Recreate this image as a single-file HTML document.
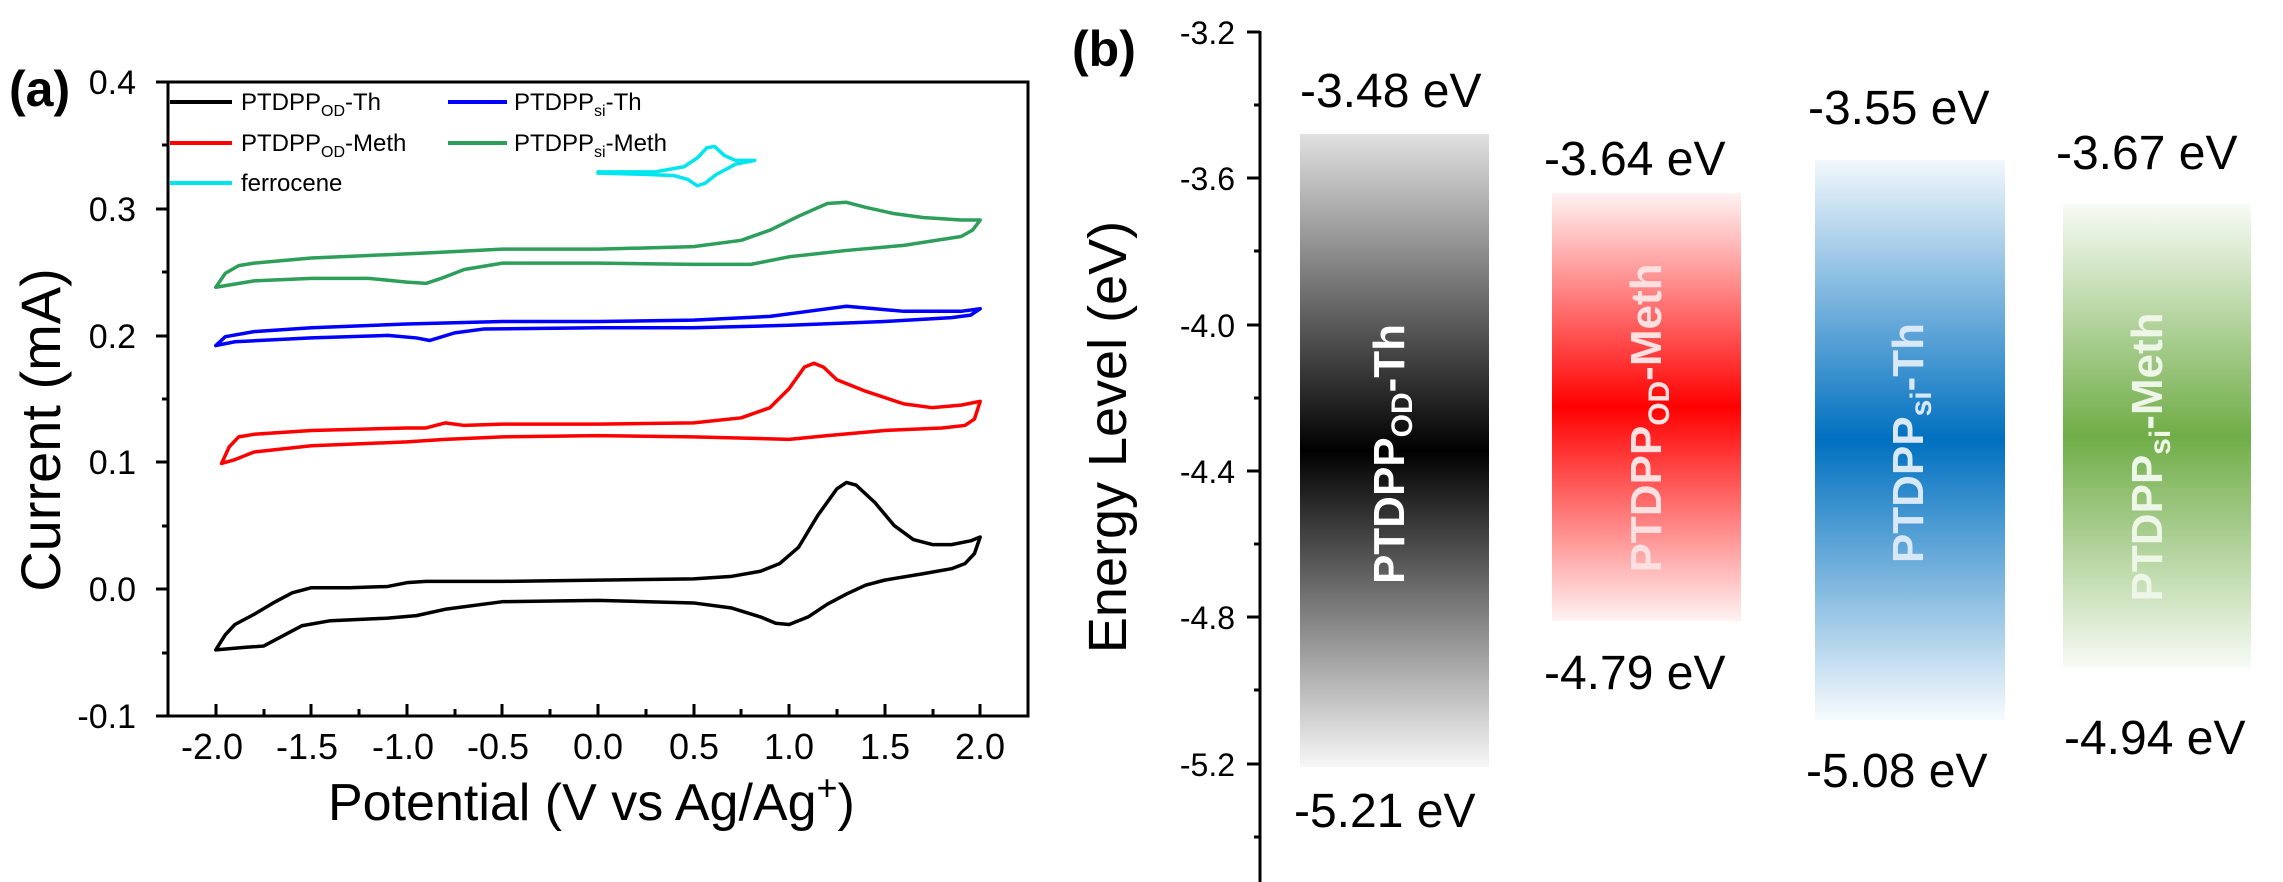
<!DOCTYPE html>
<html><head><meta charset="utf-8"><style>
html,body{margin:0;padding:0;background:#fff;}
svg{display:block;font-family:"Liberation Sans",Arial,sans-serif;}
</style></head><body>
<svg width="2283" height="882" viewBox="0 0 2283 882" xmlns="http://www.w3.org/2000/svg">
<defs>
<linearGradient id="gk" x1="0" y1="0" x2="0" y2="1">
<stop offset="0" stop-color="#000" stop-opacity="0.12"/><stop offset="0.5" stop-color="#000" stop-opacity="1"/><stop offset="1" stop-color="#000" stop-opacity="0.03"/></linearGradient>
<linearGradient id="gr" x1="0" y1="0" x2="0" y2="1">
<stop offset="0" stop-color="#ff0000" stop-opacity="0.05"/><stop offset="0.5" stop-color="#ff0000" stop-opacity="1"/><stop offset="1" stop-color="#ff0000" stop-opacity="0.05"/></linearGradient>
<linearGradient id="gb" x1="0" y1="0" x2="0" y2="1">
<stop offset="0" stop-color="#0070c0" stop-opacity="0.05"/><stop offset="0.5" stop-color="#0070c0" stop-opacity="1"/><stop offset="1" stop-color="#0070c0" stop-opacity="0.03"/></linearGradient>
<linearGradient id="gg" x1="0" y1="0" x2="0" y2="1">
<stop offset="0" stop-color="#70ad47" stop-opacity="0.05"/><stop offset="0.5" stop-color="#70ad47" stop-opacity="1"/><stop offset="1" stop-color="#70ad47" stop-opacity="0.05"/></linearGradient>
</defs>

<!-- Panel a -->
<text x="9" y="106" font-size="50" font-weight="bold">(a)</text>
<rect x="168" y="82" width="860" height="634" fill="none" stroke="#000" stroke-width="3"/>
<g stroke="#000" stroke-width="3">
<line x1="156" y1="82" x2="168" y2="82"/><line x1="156" y1="209" x2="168" y2="209"/><line x1="156" y1="336" x2="168" y2="336"/><line x1="156" y1="462" x2="168" y2="462"/><line x1="156" y1="589" x2="168" y2="589"/><line x1="156" y1="716" x2="168" y2="716"/>
<line x1="162" y1="145" x2="168" y2="145"/><line x1="162" y1="272" x2="168" y2="272"/><line x1="162" y1="399" x2="168" y2="399"/><line x1="162" y1="526" x2="168" y2="526"/><line x1="162" y1="653" x2="168" y2="653"/>
<line x1="216" y1="716" x2="216" y2="704"/><line x1="311" y1="716" x2="311" y2="704"/><line x1="407" y1="716" x2="407" y2="704"/><line x1="502" y1="716" x2="502" y2="704"/><line x1="598" y1="716" x2="598" y2="704"/><line x1="694" y1="716" x2="694" y2="704"/><line x1="789" y1="716" x2="789" y2="704"/><line x1="885" y1="716" x2="885" y2="704"/><line x1="980" y1="716" x2="980" y2="704"/>
<line x1="264" y1="716" x2="264" y2="709"/><line x1="359" y1="716" x2="359" y2="709"/><line x1="455" y1="716" x2="455" y2="709"/><line x1="550" y1="716" x2="550" y2="709"/><line x1="646" y1="716" x2="646" y2="709"/><line x1="741" y1="716" x2="741" y2="709"/><line x1="837" y1="716" x2="837" y2="709"/><line x1="933" y1="716" x2="933" y2="709"/>
</g>
<g font-size="34" text-anchor="end">
<text x="136" y="94">0.4</text><text x="136" y="221">0.3</text><text x="136" y="348">0.2</text><text x="136" y="474">0.1</text><text x="136" y="601">0.0</text><text x="136" y="728">-0.1</text>
</g>
<g font-size="36" text-anchor="middle">
<text x="212" y="759">-2.0</text><text x="307" y="759">-1.5</text><text x="403" y="759">-1.0</text><text x="498" y="759">-0.5</text><text x="598" y="759">0.0</text><text x="694" y="759">0.5</text><text x="789" y="759">1.0</text><text x="885" y="759">1.5</text><text x="980" y="759">2.0</text>
</g>
<text x="328" y="820" font-size="52">Potential (V vs Ag/Ag<tspan font-size="36" dy="-20">+</tspan><tspan dy="20">)</tspan></text>
<text transform="translate(60,430) rotate(-90)" font-size="56" text-anchor="middle">Current (mA)</text>

<!-- legend -->
<g stroke-width="4">
<line x1="170" y1="102" x2="232" y2="102" stroke="#000"/>
<line x1="170" y1="143" x2="232" y2="143" stroke="#ff0000"/>
<line x1="170" y1="183" x2="232" y2="183" stroke="#00e5ee"/>
<line x1="448" y1="102" x2="507" y2="102" stroke="#0000ff"/>
<line x1="448" y1="143" x2="507" y2="143" stroke="#2e9e5b"/>
</g>
<g font-size="24">
<text x="241" y="110">PTDPP<tspan font-size="16" dy="6">OD</tspan><tspan dy="-6">-Th</tspan></text>
<text x="241" y="151">PTDPP<tspan font-size="16" dy="6">OD</tspan><tspan dy="-6">-Meth</tspan></text>
<text x="241" y="191">ferrocene</text>
<text x="514" y="110">PTDPP<tspan font-size="16" dy="6">si</tspan><tspan dy="-6">-Th</tspan></text>
<text x="514" y="151">PTDPP<tspan font-size="16" dy="6">si</tspan><tspan dy="-6">-Meth</tspan></text>
</g>

<!-- curves -->
<g transform="translate(598,589) scale(191.1,-1268)" fill="none" stroke-linejoin="round" stroke-linecap="round">
<polyline vector-effect="non-scaling-stroke" stroke="#000" stroke-width="3.5" points="-2,-0.048 -1.95,-0.036 -1.9,-0.028 -1.8,-0.02 -1.7,-0.011 -1.6,-0.003 -1.5,0.001 -1.3,0.001 -1.1,0.002 -1.0,0.005 -0.9,0.006 -0.5,0.006 0,0.007 0.5,0.008 0.7,0.01 0.85,0.014 0.95,0.02 1.05,0.033 1.15,0.058 1.25,0.079 1.3,0.084 1.35,0.082 1.45,0.068 1.55,0.05 1.65,0.039 1.75,0.035 1.85,0.035 1.95,0.038 2.0,0.041 1.97,0.028 1.92,0.02 1.85,0.016 1.7,0.012 1.5,0.007 1.4,0.003 1.3,-0.004 1.2,-0.012 1.1,-0.022 1.0,-0.028 0.93,-0.027 0.85,-0.022 0.7,-0.015 0.5,-0.011 0,-0.009 -0.5,-0.01 -0.8,-0.016 -0.95,-0.021 -1.1,-0.023 -1.4,-0.025 -1.55,-0.029 -1.65,-0.037 -1.75,-0.045 -1.85,-0.046 -2,-0.048"/>
<polyline vector-effect="non-scaling-stroke" stroke="#ff0000" stroke-width="3.5" points="-1.97,0.099 -1.93,0.112 -1.88,0.12 -1.8,0.122 -1.5,0.125 -1.0,0.127 -0.9,0.127 -0.8,0.131 -0.7,0.129 -0.5,0.13 0,0.13 0.5,0.131 0.75,0.135 0.9,0.143 1.0,0.158 1.08,0.175 1.13,0.178 1.18,0.175 1.25,0.165 1.4,0.156 1.6,0.146 1.75,0.143 1.9,0.145 2.0,0.148 1.97,0.134 1.92,0.129 1.8,0.127 1.5,0.125 1.2,0.121 1.0,0.118 0.5,0.12 0,0.121 -0.5,0.12 -0.8,0.118 -1.0,0.116 -1.5,0.113 -1.8,0.108 -1.9,0.102 -1.97,0.099"/>
<polyline vector-effect="non-scaling-stroke" stroke="#0000ff" stroke-width="3.5" points="-2,0.192 -1.95,0.199 -1.8,0.203 -1.5,0.206 -1.0,0.209 -0.5,0.211 0,0.211 0.5,0.212 0.9,0.215 1.1,0.219 1.3,0.223 1.45,0.221 1.6,0.219 1.9,0.219 2.0,0.221 1.95,0.216 1.85,0.214 1.5,0.211 1.0,0.208 0.5,0.206 0,0.206 -0.6,0.205 -0.75,0.202 -0.88,0.196 -0.95,0.198 -1.1,0.2 -1.5,0.198 -1.9,0.195 -2,0.192"/>
<polyline vector-effect="non-scaling-stroke" stroke="#2e9e5b" stroke-width="3.5" points="-2,0.238 -1.95,0.249 -1.88,0.255 -1.8,0.257 -1.5,0.261 -1.2,0.263 -0.9,0.265 -0.5,0.268 0,0.268 0.5,0.27 0.75,0.275 0.9,0.283 1.05,0.294 1.2,0.304 1.3,0.305 1.4,0.301 1.55,0.296 1.7,0.293 1.9,0.291 2.0,0.291 1.96,0.283 1.9,0.278 1.6,0.271 1.3,0.267 1.0,0.262 0.8,0.256 0.5,0.256 0,0.257 -0.5,0.257 -0.7,0.252 -0.82,0.245 -0.9,0.241 -1.0,0.242 -1.2,0.245 -1.5,0.245 -1.8,0.243 -2,0.238"/>
<polyline vector-effect="non-scaling-stroke" stroke="#00e5ee" stroke-width="3.5" points="0,0.329 0.3,0.329 0.45,0.333 0.52,0.34 0.57,0.348 0.61,0.349 0.66,0.342 0.72,0.338 0.82,0.338 0.72,0.335 0.62,0.327 0.56,0.32 0.52,0.318 0.47,0.323 0.4,0.326 0.25,0.327 0,0.328"/>
</g>

<!-- Panel b -->
<text x="1072" y="66" font-size="50" font-weight="bold">(b)</text>
<g stroke="#000" stroke-width="3">
<line x1="1260" y1="31" x2="1260" y2="882"/>
<line x1="1247" y1="32" x2="1260" y2="32"/><line x1="1247" y1="178" x2="1260" y2="178"/><line x1="1247" y1="325" x2="1260" y2="325"/><line x1="1247" y1="471" x2="1260" y2="471"/><line x1="1247" y1="617" x2="1260" y2="617"/><line x1="1247" y1="764" x2="1260" y2="764"/>
<line x1="1254" y1="105" x2="1260" y2="105"/><line x1="1254" y1="251" x2="1260" y2="251"/><line x1="1254" y1="398" x2="1260" y2="398"/><line x1="1254" y1="544" x2="1260" y2="544"/><line x1="1254" y1="690" x2="1260" y2="690"/><line x1="1254" y1="837" x2="1260" y2="837"/>
</g>
<g font-size="32" text-anchor="end">
<text x="1235" y="44">-3.2</text><text x="1235" y="190">-3.6</text><text x="1235" y="337">-4.0</text><text x="1235" y="483">-4.4</text><text x="1235" y="629">-4.8</text><text x="1235" y="776">-5.2</text>
</g>
<text transform="translate(1126,437) rotate(-90)" font-size="54" text-anchor="middle">Energy Level (eV)</text>

<rect x="1300" y="134" width="189" height="633" fill="url(#gk)"/>
<rect x="1552" y="193" width="189" height="428" fill="url(#gr)"/>
<rect x="1815" y="160" width="190" height="560" fill="url(#gb)"/>
<rect x="2063" y="204" width="188" height="464" fill="url(#gg)"/>

<g font-size="44" font-weight="bold" text-anchor="middle">
<text transform="translate(1404,454) rotate(-90)" fill="#fff">PTDPP<tspan font-size="30" dy="8">OD</tspan><tspan dy="-8">-Th</tspan></text>
<text transform="translate(1661,418) rotate(-90)" fill="#ffe0e0">PTDPP<tspan font-size="30" dy="8">OD</tspan><tspan dy="-8">-Meth</tspan></text>
<text transform="translate(1923,443) rotate(-90)" fill="#d8e8f6">PTDPP<tspan font-size="30" dy="8">si</tspan><tspan dy="-8">-Th</tspan></text>
<text transform="translate(2162,457) rotate(-90)" fill="#eef6e8">PTDPP<tspan font-size="30" dy="8">si</tspan><tspan dy="-8">-Meth</tspan></text>
</g>

<g font-size="48">
<text x="1300" y="107">-3.48 eV</text>
<text x="1294" y="827">-5.21 eV</text>
<text x="1544" y="175">-3.64 eV</text>
<text x="1544" y="689">-4.79 eV</text>
<text x="1808" y="124">-3.55 eV</text>
<text x="1806" y="787">-5.08 eV</text>
<text x="2056" y="169">-3.67 eV</text>
<text x="2064" y="754">-4.94 eV</text>
</g>
</svg>
</body></html>
